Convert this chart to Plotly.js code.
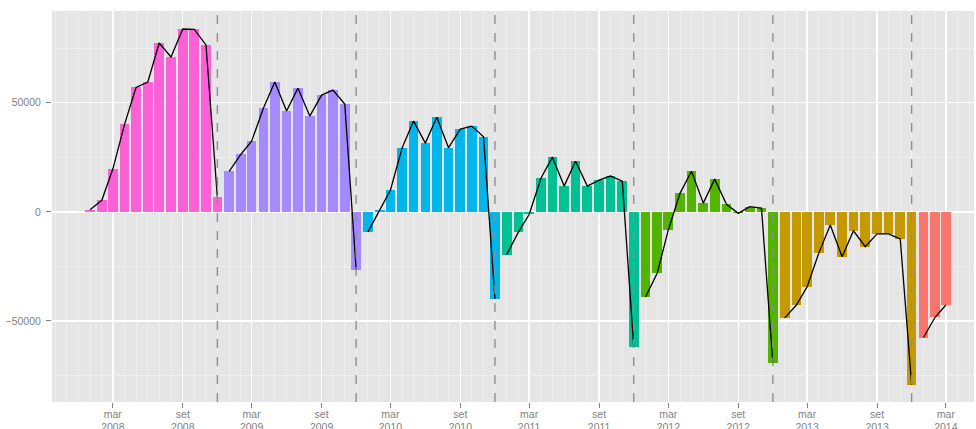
<!DOCTYPE html>
<html>
<head>
<meta charset="utf-8">
<script src="https://cdn.plot.ly/plotly-3.0.1.min.js"></script>
<style>
  html, body { margin: 0; padding: 0; background: #ffffff; }
  #chart { width: 976px; height: 429px; }
</style>
</head>
<body>
<div id="chart"></div>
<script>
// ---- data (monthly values, Jan..Dec of each year) ----
const years = [2008, 2009, 2010, 2011, 2012, 2013, 2014];
const v2008 = [1000, 5300, 19600, 40200, 57000, 59500, 77400, 71000, 83800, 83600, 76500, 6600];
const v2009 = [18600, 26400, 32400, 47500, 59500, 46200, 56700, 43900, 53500, 55800, 49400, -26600];
const v2010 = [-9200, 800, 9900, 29400, 41600, 31500, 43400, 29400, 37900, 39300, 34400, -39900];
const v2011 = [-19600, -9200, -1200, 15400, 25100, 11800, 23200, 11800, 14500, 16400, 14100, -61900];
const v2012 = [-39000, -28000, -8300, 8600, 18600, 4000, 15000, 3500, -700, 2400, 1700, -69300];
const v2013 = [-48600, -42700, -34400, -18800, -6000, -20600, -8700, -16000, -10100, -10100, -12400, -79200];
const v2014 = [-57600, -48200, -42700];
const seriesValues = [v2008, v2009, v2010, v2011, v2012, v2013, v2014];
const yearColors = ["#FB61D7", "#A58AFF", "#00B6EB", "#00C094", "#53B400", "#C49A00", "#F8766D"];
const dividerYears = [2008, 2009, 2010, 2011, 2012, 2013]; // dashed line at December of these years

const tickDates = ["2008-03-01","2008-09-01","2009-03-01","2009-09-01","2010-03-01","2010-09-01",
                   "2011-03-01","2011-09-01","2012-03-01","2012-09-01","2013-03-01","2013-09-01","2014-03-01"];
const tickLabels = ["mar<br>2008","set<br>2008","mar<br>2009","set<br>2009","mar<br>2010","set<br>2010",
                    "mar<br>2011","set<br>2011","mar<br>2012","set<br>2012","mar<br>2013","set<br>2013","mar<br>2014"];

// ---- build traces ----
function monthDate(y, i) { return y + "-" + String(i + 1).padStart(2, "0") + "-01"; }
const DAY = 86400000;
const traces = [];
years.forEach((y, k) => {
  const xs = seriesValues[k].map((_, i) => monthDate(y, i));
  traces.push({
    type: "bar", x: xs, y: seriesValues[k],
    width: xs.map(() => 25.5 * DAY),
    marker: { color: yearColors[k], line: { width: 0 } },
    hoverinfo: "skip", showlegend: false
  });
});
years.forEach((y, k) => {
  const xs = seriesValues[k].map((_, i) => monthDate(y, i));
  traces.push({
    type: "scatter", mode: "lines", x: xs, y: seriesValues[k],
    line: { color: "#000000", width: 1.3 },
    hoverinfo: "skip", showlegend: false
  });
});

const shapes = dividerYears.map(y => ({
  type: "line", xref: "x", yref: "paper",
  x0: y + "-12-01", x1: y + "-12-01", y0: 0, y1: 1,
  line: { color: "#8E8E8E", width: 1.4, dash: "dash" }, layer: "above"
}));

const axisFont = { family: "Liberation Sans, Arial, sans-serif", size: 10.5, color: "#7F7F7F" };

const layout = {
  width: 976, height: 429,
  margin: { l: 52, r: 2, t: 11, b: 27, pad: 0 },
  paper_bgcolor: "#FFFFFF",
  plot_bgcolor: "#E5E5E5",
  bargap: 0,
  barmode: "overlay",
  shapes: shapes,
  xaxis: {
    type: "date",
    range: ["2007-09-23", "2014-05-14"],
    tickmode: "array", tickvals: tickDates, ticktext: tickLabels,
    ticks: "outside", ticklen: 5, tickwidth: 1, tickcolor: "#7F7F7F",
    ticklabelstandoff: -3,
    showgrid: true, gridcolor: "#FFFFFF", gridwidth: 1.4,
    minor: { dtick: "M1", tick0: "2008-01-01", showgrid: true, gridcolor: "#F2F2F2", gridwidth: 0.7, ticks: "" },
    zeroline: false, showline: false,
    tickfont: axisFont, fixedrange: true
  },
  yaxis: {
    range: [-87156, 92060],
    tickmode: "array", tickvals: [-50000, 0, 50000], ticktext: ["\u221250000", "0", "50000"],
    ticks: "outside", ticklen: 5, tickwidth: 1, tickcolor: "#7F7F7F",
    ticklabelstandoff: 3,
    showgrid: true, gridcolor: "#FFFFFF", gridwidth: 1.4,
    minor: { tickmode: "array", tickvals: [-75000, -25000, 25000, 75000], showgrid: true, gridcolor: "#F2F2F2", gridwidth: 0.7, ticks: "" },
    zeroline: false, showline: false,
    tickfont: axisFont, fixedrange: true
  },
  font: axisFont
};

Plotly.newPlot("chart", traces, layout, { displayModeBar: false, staticPlot: true });
</script>
</body>
</html>
